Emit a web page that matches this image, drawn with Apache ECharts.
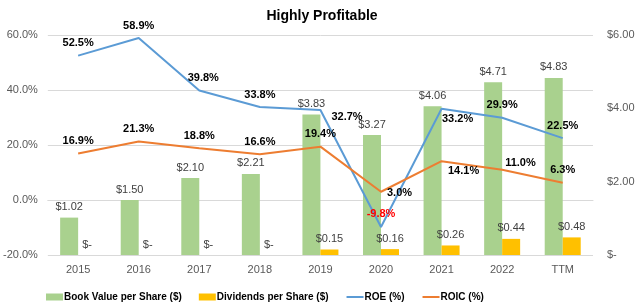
<!DOCTYPE html>
<html><head><meta charset="utf-8">
<script src="https://cdn.jsdelivr.net/npm/echarts@6/dist/echarts.min.js"></script>
<style>html,body{margin:0;padding:0;background:#fff}#c{width:640px;height:308px}</style>
</head><body><div id="c"></div>
<script>
var categories = ['2015','2016','2017','2018','2019','2020','2021','2022','TTM'];
var bookValue = [1.02, 1.50, 2.10, 2.21, 3.83, 3.27, 4.06, 4.71, 4.83];
var dividends = [0, 0, 0, 0, 0.15, 0.16, 0.26, 0.44, 0.48];
var roe = [52.5, 58.9, 39.8, 33.8, 32.7, -9.8, 33.2, 29.9, 22.5];
var roic = [16.9, 21.3, 18.8, 16.6, 19.4, 3.0, 14.1, 11.0, 6.3];
var leftTicks = {min: -20, max: 60, interval: 20};
var rightTicks = {min: 0, max: 6, interval: 2};

var FONT = 'Liberation Sans';
var roeLabelCfg = {
  2: {offset: [4, 0]},
  4: {position: 'right', distance: 5, offset: [6, 7]},
  6: {position: 'bottom', distance: 5, offset: [16, 0]}
};
var roicLabelCfg = {
  5: {position: 'right', distance: 6, offset: [0, 1]},
  6: {position: 'bottom', distance: 5, offset: [22, -1]},
  7: {position: 'right', distance: 3, offset: [0, -7]}
};
function lineData(arr, cfg) {
  return arr.map(function (v, i) {
    var d = {value: v};
    var lab = {};
    if (cfg[i]) { for (var k in cfg[i]) lab[k] = cfg[i][k]; }
    if (v < 0) lab.color = '#FF0000';
    d.label = lab;
    return d;
  });
}
var pctLabel = {
  show: true, position: 'top', distance: 7,
  fontFamily: FONT, fontSize: 11, fontWeight: 'bold', color: '#000',
  formatter: function (p) { return p.value.toFixed(1) + '%'; }
};
var barLabel = {
  show: true, position: 'top', distance: 5,
  fontFamily: FONT, fontSize: 11, color: '#404040',
  formatter: function (p) { return p.value === 0 ? '$-' : '$' + p.value.toFixed(2); }
};

var chart = echarts.init(document.getElementById('c'), null, {renderer: 'canvas'});
chart.setOption({
  animation: false,
  backgroundColor: '#fff',
  title: {
    text: 'Highly Profitable', left: 317, top: 4, textAlign: 'center',
    textStyle: {fontFamily: FONT, fontSize: 14, fontWeight: 'bold', color: '#000'}
  },
  legend: {
    left: 41, top: 287, itemGap: 17, itemWidth: 17, itemHeight: 7,
    textStyle: {fontFamily: FONT, fontSize: 10, fontWeight: 'bold', color: '#000', padding: [0,0,0,-4]},
    data: [
      {name: 'Book Value per Share ($)', icon: 'rect'},
      {name: 'Dividends per Share ($)', icon: 'rect'},
      {name: 'ROE (%)', itemStyle: {opacity: 0}},
      {name: 'ROIC (%)', itemStyle: {opacity: 0}}
    ]
  },
  grid: {left: 42, right: 47, top: 35, bottom: 53},
  xAxis: {
    type: 'category', data: categories,
    axisLine: {lineStyle: {color: '#D9D9D9'}},
    axisTick: {show: false},
    axisLabel: {fontFamily: FONT, fontSize: 11, color: '#595959', margin: 9}
  },
  yAxis: [
    {
      type: 'value', min: leftTicks.min, max: leftTicks.max, interval: leftTicks.interval,
      axisLine: {show: false}, axisTick: {show: false},
      splitLine: {lineStyle: {color: '#D9D9D9'}},
      axisLabel: {fontFamily: FONT, fontSize: 11, color: '#595959', margin: 10,
        formatter: function (v) { return v.toFixed(1) + '%'; }}
    },
    {
      type: 'value', min: rightTicks.min, max: rightTicks.max, interval: rightTicks.interval,
      position: 'right',
      axisLine: {show: false}, axisTick: {show: false}, splitLine: {show: false},
      axisLabel: {fontFamily: FONT, fontSize: 11, color: '#595959', margin: 14,
        formatter: function (v) { return v === 0 ? '$-' : '$' + v.toFixed(2); }}
    }
  ],
  series: [
    {
      name: 'Book Value per Share ($)', type: 'bar', yAxisIndex: 1,
      data: bookValue, barWidth: 18, barGap: '0%',
      itemStyle: {color: '#A9D18E'}, label: barLabel, z: 2
    },
    {
      name: 'Dividends per Share ($)', type: 'bar', yAxisIndex: 1,
      data: dividends, barWidth: 18, barGap: '0%',
      itemStyle: {color: '#FFC000'}, label: barLabel, z: 2
    },
    {
      name: 'ROE (%)', type: 'line', yAxisIndex: 0,
      data: lineData(roe, roeLabelCfg), symbol: 'circle', symbolSize: 0, showSymbol: true,
      lineStyle: {color: '#5B9BD5', width: 2}, itemStyle: {color: '#5B9BD5'},
      label: pctLabel, z: 3
    },
    {
      name: 'ROIC (%)', type: 'line', yAxisIndex: 0,
      data: lineData(roic, roicLabelCfg), symbol: 'circle', symbolSize: 0, showSymbol: true,
      lineStyle: {color: '#ED7D31', width: 2}, itemStyle: {color: '#ED7D31'},
      label: pctLabel, z: 3
    }
  ]
});
</script></body></html>
